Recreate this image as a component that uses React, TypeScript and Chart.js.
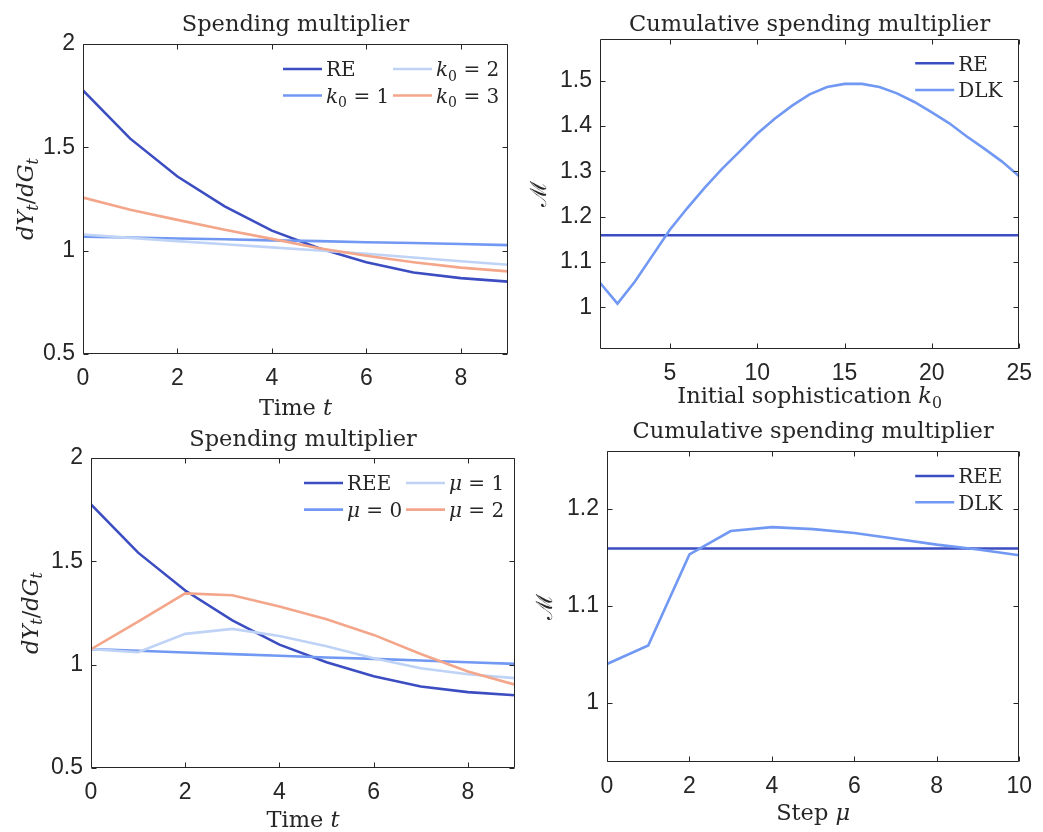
import React, { useEffect, useRef } from 'react';
import { Chart, registerables } from 'chart.js';

Chart.register(...registerables);

const W = 1043;
const H = 832;
const SERIF = '"DejaVu Serif", "Liberation Serif", serif';
const SANS = '"Liberation Sans", Arial, sans-serif';
const INK = '#262626';

const C_DARK = '#3b4dc1';
const C_MED = '#7198f2';
const C_LIGHT = '#bfd3f6';
const C_ORANGE = '#f4a68a';

// ---------- Data ----------
// Panel 1 & 3: time axis
const timeSteps = [0, 1, 2, 3, 4, 5, 6, 7, 8, 9];
const reMult = [1.775, 1.542, 1.359, 1.214, 1.097, 1.012, 0.944, 0.894, 0.867, 0.85];
const k0One = [1.068, 1.064, 1.059, 1.055, 1.05, 1.046, 1.041, 1.037, 1.032, 1.027];
const k0Two = [1.078, 1.062, 1.046, 1.031, 1.016, 1.001, 0.985, 0.967, 0.949, 0.932];
const k0Three = [1.257, 1.198, 1.149, 1.101, 1.057, 1.012, 0.975, 0.944, 0.918, 0.9];

const reeMult = [1.775, 1.542, 1.359, 1.214, 1.097, 1.012, 0.944, 0.894, 0.867, 0.852];
const muZero = [1.075, 1.067, 1.059, 1.051, 1.043, 1.035, 1.028, 1.02, 1.012, 1.004];
const muOne = [1.075, 1.06, 1.149, 1.173, 1.139, 1.089, 1.031, 0.983, 0.954, 0.935];
const muTwo = [1.075, 1.208, 1.345, 1.336, 1.281, 1.22, 1.144, 1.052, 0.967, 0.903];

// Panel 2: initial sophistication
const k0Axis = [1, 2, 3, 4, 5, 6, 7, 8, 9, 10, 11, 12, 13, 14, 15, 16, 17, 18, 19, 20, 21, 22, 23, 24, 25];
const dlkByK0 = [1.054, 1.008, 1.057, 1.114, 1.171, 1.219, 1.264, 1.306, 1.344, 1.383, 1.416, 1.445, 1.47, 1.486, 1.493, 1.493, 1.486, 1.472, 1.453, 1.43, 1.406, 1.377, 1.35, 1.322, 1.289];
const reCumK0 = [1, 25];
const reCumVal = [1.159, 1.159];

// Panel 4: step mu
const muAxis = [0, 1, 2, 3, 4, 5, 6, 7, 8, 9, 10];
const dlkByMu = [1.04, 1.059, 1.153, 1.177, 1.181, 1.179, 1.175, 1.169, 1.163, 1.158, 1.152];
const reeCumMu = [0, 10];
const reeCumVal = [1.159, 1.159];

// Tick labels
const timeTicks = [0, 2, 4, 6, 8];
const multTicks = [0.5, 1, 1.5, 2];
const k0Ticks = [5, 10, 15, 20, 25];
const cumTicks2 = [1, 1.1, 1.2, 1.3, 1.4, 1.5];
const muTicks = [0, 2, 4, 6, 8, 10];
const cumTicks4 = [1, 1.1, 1.2];

// ---------- Rich text ----------
type Seg = { t: string; i?: boolean; sub?: boolean };

const fontFor = (size: number, italic?: boolean) => `${italic ? 'italic ' : ''}${size}px ${SERIF}`;

function measureRich(ctx: CanvasRenderingContext2D, segs: Seg[], size: number) {
  let w = 0;
  for (const s of segs) {
    ctx.font = fontFor(s.sub ? size * 0.7 : size, s.i);
    w += ctx.measureText(s.t).width;
  }
  return w;
}

function drawRich(
  ctx: CanvasRenderingContext2D,
  segs: Seg[],
  x: number,
  y: number,
  size: number,
  rot = 0,
  align: 'left' | 'center' = 'center'
) {
  ctx.save();
  ctx.translate(x, y);
  if (rot) ctx.rotate(rot);
  ctx.textBaseline = 'alphabetic';
  ctx.textAlign = 'left';
  ctx.fillStyle = INK;
  let cx = align === 'center' ? -measureRich(ctx, segs, size) / 2 : 0;
  for (const s of segs) {
    const fs = s.sub ? size * 0.7 : size;
    ctx.font = fontFor(fs, s.i);
    ctx.fillText(s.t, cx, s.sub ? size * 0.22 : 0);
    cx += ctx.measureText(s.t).width;
  }
  ctx.restore();
}

// ---------- Panel configuration ----------
interface Series { x: number[]; y: number[]; color: string; name: string; label: Seg[] }
interface PanelCfg {
  area: { l: number; r: number; t: number; b: number };
  xMin: number; xMax: number; yMin: number; yMax: number;
  xTicks: number[]; yTicks: number[];
  series: Series[];
  title: string; titleY: number;
  xLabel: Seg[]; xLabelY: number;
  yLabel: Seg[]; yLabelX: number;
  legend: { dx: number; colDx: number; rows: number[]; lineLen: number };
}

const TITLE_SIZE = 22.5;
const LABEL_SIZE = 22.5;
const LEGEND_SIZE = 20;

const dYdG: Seg[] = [
  { t: 'd', i: true }, { t: 'Y', i: true }, { t: 't', i: true, sub: true },
  { t: '/' },
  { t: 'd', i: true }, { t: 'G', i: true }, { t: 't', i: true, sub: true },
];
const calM: Seg[] = [{ t: 'ℳ' }];

const panels: PanelCfg[] = [
  {
    area: { l: 83, r: 508, t: 44, b: 354 },
    xMin: 0, xMax: 9, yMin: 0.5, yMax: 2,
    xTicks: timeTicks, yTicks: multTicks,
    series: [
      { x: timeSteps, y: reMult, color: C_DARK, name: 'RE', label: [{ t: 'RE' }] },
      { x: timeSteps, y: k0One, color: C_MED, name: 'k0 = 1', label: [{ t: 'k', i: true }, { t: '0', sub: true }, { t: ' = 1' }] },
      { x: timeSteps, y: k0Two, color: C_LIGHT, name: 'k0 = 2', label: [{ t: 'k', i: true }, { t: '0', sub: true }, { t: ' = 2' }] },
      { x: timeSteps, y: k0Three, color: C_ORANGE, name: 'k0 = 3', label: [{ t: 'k', i: true }, { t: '0', sub: true }, { t: ' = 3' }] },
    ],
    title: 'Spending multiplier', titleY: 31,
    xLabel: [{ t: 'Time ' }, { t: 't', i: true }], xLabelY: 415,
    yLabel: dYdG, yLabelX: 33,
    legend: { dx: 225, colDx: 110, rows: [25, 51.5], lineLen: 39 },
  },
  {
    area: { l: 600, r: 1029, t: 39, b: 349 },
    xMin: 1, xMax: 25, yMin: 0.908, yMax: 1.592,
    xTicks: k0Ticks, yTicks: cumTicks2,
    series: [
      { x: reCumK0, y: reCumVal, color: C_DARK, name: 'RE', label: [{ t: 'RE' }] },
      { x: k0Axis, y: dlkByK0, color: C_MED, name: 'DLK', label: [{ t: 'DLK' }] },
    ],
    title: 'Cumulative spending multiplier', titleY: 31,
    xLabel: [{ t: 'Initial sophistication ' }, { t: 'k', i: true }, { t: '0', sub: true }], xLabelY: 403,
    yLabel: calM, yLabelX: 546,
    legend: { dx: 104, colDx: 0, rows: [24.3, 51], lineLen: 39 },
  },
  {
    area: { l: 91, r: 515, t: 458, b: 768 },
    xMin: 0, xMax: 9, yMin: 0.5, yMax: 2,
    xTicks: timeTicks, yTicks: multTicks,
    series: [
      { x: timeSteps, y: reeMult, color: C_DARK, name: 'REE', label: [{ t: 'REE' }] },
      { x: timeSteps, y: muZero, color: C_MED, name: 'μ = 0', label: [{ t: 'μ', i: true }, { t: ' = 0' }] },
      { x: timeSteps, y: muOne, color: C_LIGHT, name: 'μ = 1', label: [{ t: 'μ', i: true }, { t: ' = 1' }] },
      { x: timeSteps, y: muTwo, color: C_ORANGE, name: 'μ = 2', label: [{ t: 'μ', i: true }, { t: ' = 2' }] },
    ],
    title: 'Spending multiplier', titleY: 445.5,
    xLabel: [{ t: 'Time ' }, { t: 't', i: true }], xLabelY: 826.5,
    yLabel: dYdG, yLabelX: 37.5,
    legend: { dx: 211, colDx: 102, rows: [25, 51.6], lineLen: 39 },
  },
  {
    area: { l: 607, r: 1023, t: 451, b: 762 },
    xMin: 0, xMax: 10, yMin: 0.939, yMax: 1.2595,
    xTicks: muTicks, yTicks: cumTicks4,
    series: [
      { x: reeCumMu, y: reeCumVal, color: C_DARK, name: 'REE', label: [{ t: 'REE' }] },
      { x: muAxis, y: dlkByMu, color: C_MED, name: 'DLK', label: [{ t: 'DLK' }] },
    ],
    title: 'Cumulative spending multiplier', titleY: 438.3,
    xLabel: [{ t: 'Step ' }, { t: 'μ', i: true }], xLabelY: 820,
    yLabel: calM, yLabelX: 552,
    legend: { dx: 104, colDx: 0, rows: [25, 51.3], lineLen: 39 },
  },
];

const YW = 60;
const XH = 40;
const TICK_LEN = 5;

const decorPlugin = {
  id: 'panelDecor',
  afterDraw(chart: any) {
    const cfg: PanelCfg = chart.options.plugins.panelDecor.cfg;
    const ctx: CanvasRenderingContext2D = chart.ctx;
    const { left, right, top, bottom } = chart.chartArea;
    const xs = chart.scales.x;
    const ys = chart.scales.y;
    ctx.save();
    ctx.strokeStyle = INK;
    ctx.lineWidth = 1;
    const L = Math.round(left) + 0.5;
    const R = Math.round(right) - 0.5;
    const T = Math.round(top) + 0.5;
    const B = Math.round(bottom) - 0.5;
    ctx.beginPath();
    ctx.rect(L, T, R - L, B - T);
    for (const tk of xs.ticks) {
      const px = Math.round(xs.getPixelForValue(tk.value)) + 0.5;
      ctx.moveTo(px, B); ctx.lineTo(px, B - TICK_LEN);
      ctx.moveTo(px, T); ctx.lineTo(px, T + TICK_LEN);
    }
    for (const tk of ys.ticks) {
      const py = Math.round(ys.getPixelForValue(tk.value)) + 0.5;
      ctx.moveTo(L, py); ctx.lineTo(L + TICK_LEN, py);
      ctx.moveTo(R, py); ctx.lineTo(R - TICK_LEN, py);
    }
    ctx.stroke();

    // title
    drawRich(ctx, [{ t: cfg.title }], (left + right) / 2, cfg.titleY, TITLE_SIZE);
    // x label
    drawRich(ctx, cfg.xLabel, (left + right) / 2, cfg.xLabelY, LABEL_SIZE);
    // y label (rotated)
    drawRich(ctx, cfg.yLabel, cfg.yLabelX, (top + bottom) / 2, LABEL_SIZE, -Math.PI / 2);

    // legend (column-major, two rows per column)
    const lg = cfg.legend;
    const rowsPerCol = lg.rows.length;
    chart.data.datasets.forEach((ds: any, i: number) => {
      const col = Math.floor(i / rowsPerCol);
      const row = i % rowsPerCol;
      const x0 = right - lg.dx + col * lg.colDx;
      const y0 = top + lg.rows[row];
      ctx.strokeStyle = ds.borderColor;
      ctx.lineWidth = 2.6;
      ctx.beginPath();
      ctx.moveTo(x0, y0);
      ctx.lineTo(x0 + lg.lineLen, y0);
      ctx.stroke();
      drawRich(ctx, cfg.series[i].label, x0 + lg.lineLen + 4, y0 + LEGEND_SIZE * 0.36, LEGEND_SIZE, 0, 'left');
    });
    ctx.restore();
  },
};

function Panel({ cfg }: { cfg: PanelCfg }) {
  const ref = useRef<HTMLCanvasElement>(null);
  useEffect(() => {
    const canvas = ref.current;
    if (!canvas) return;
    const a = cfg.area;
    const n = cfg.series.length;
    const chart = new Chart(canvas, {
      type: 'line',
      data: {
        datasets: cfg.series.map((s, i) => ({
          label: s.name,
          data: s.x.map((x, j) => ({ x, y: s.y[j] })),
          borderColor: s.color,
          backgroundColor: s.color,
          borderWidth: 2.6,
          pointRadius: 0,
          tension: 0,
          fill: false,
          order: n - i,
        })),
      },
      options: {
        responsive: false,
        animation: false,
        devicePixelRatio: 1,
        events: [],
        layout: { padding: { left: a.l - YW, right: W - a.r, top: a.t, bottom: H - a.b - XH } },
        plugins: {
          legend: { display: false },
          tooltip: { enabled: false },
          title: { display: false },
          panelDecor: { cfg },
        } as any,
        scales: {
          x: {
            type: 'linear',
            min: cfg.xMin,
            max: cfg.xMax,
            afterBuildTicks: (s: any) => { s.ticks = cfg.xTicks.map((v) => ({ value: v })); },
            afterFit: (s: any) => { s.height = XH; },
            grid: { display: false, drawTicks: false },
            border: { display: false },
            ticks: {
              font: { family: SANS, size: 23 },
              color: INK,
              padding: 11,
              maxRotation: 0,
              autoSkip: false,
              callback: (v: any) => String(v),
            },
          },
          y: {
            type: 'linear',
            min: cfg.yMin,
            max: cfg.yMax,
            afterBuildTicks: (s: any) => { s.ticks = cfg.yTicks.map((v) => ({ value: v })); },
            afterFit: (s: any) => { s.width = YW; },
            grid: { display: false, drawTicks: false },
            border: { display: false },
            ticks: {
              font: { family: SANS, size: 23 },
              color: INK,
              padding: 8,
              autoSkip: false,
              callback: (v: any) => String(v),
            },
          },
        },
      } as any,
      plugins: [decorPlugin],
    });
    return () => chart.destroy();
  }, [cfg]);
  return (
    <canvas
      ref={ref}
      width={W}
      height={H}
      style={{ position: 'absolute', left: 0, top: 0, width: W, height: H }}
    />
  );
}

export default function App() {
  return (
    <div style={{ position: 'absolute', left: 0, top: 0, width: W, height: H, background: '#ffffff', overflow: 'hidden' }}>
      {panels.map((p, i) => (
        <Panel key={i} cfg={p} />
      ))}
    </div>
  );
}
